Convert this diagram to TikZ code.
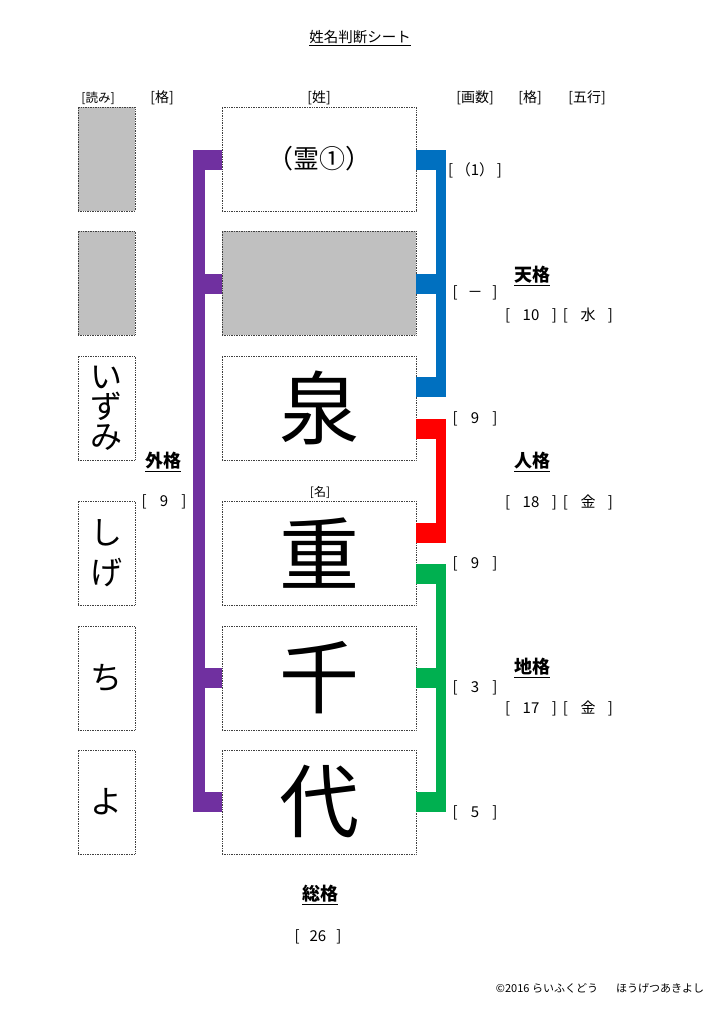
\documentclass[tikz,border=0pt]{standalone}
\usepackage{fontspec}
\setmainfont{Noto Sans CJK JP}
\usetikzlibrary{calc}
\definecolor{pur}{HTML}{7030A0}
\definecolor{blu}{HTML}{0070C0}
\definecolor{rd}{HTML}{FF0000}
\definecolor{grn}{HTML}{00B050}
\definecolor{boxgray}{HTML}{C0C0C0}
\newcommand\brk[2]{\makebox[#1pt]{[\hfill #2\hfill]}}
\newcommand\stubR[3]{\fill[#1] ($(#2)+(0,#3-10)$) rectangle ($(#2)+(30,#3+10)$);}
\newcommand\stubL[3]{\fill[#1] ($(#2)+(0,#3-10)$) rectangle ($(#2)+(-29,#3+10)$);}
\begin{document}
\begin{tikzpicture}[x=1pt,y=-1pt,
 namebox/.style={draw=black!75, densely dotted, line width=0.7pt, minimum width=194pt, minimum height=104pt, inner sep=0pt, font=\fontsize{80}{80}\selectfont},
 readbox/.style={draw=black!75, densely dotted, line width=0.7pt, minimum width=57pt, minimum height=104pt, inner sep=0pt, font=\fontsize{32}{36}\selectfont, align=center},
 grayfill/.style={fill=boxgray},
 head/.style={font=\fontsize{14}{14}\selectfont, inner sep=0pt},
 lbl/.style={font=\fontsize{15}{15}\selectfont, inner sep=0pt},
 kaku/.style={font=\fontsize{18}{18}\selectfont\bfseries, inner sep=0pt},
]
\path[use as bounding box, fill=white] (0,0) rectangle (724,1024);

% title
\node[font=\fontsize{14.5}{14.5}\selectfont, inner sep=0pt] (title) at (360,38) {\underline{姓名判断シート}};

% headers
\node[head, font=\fontsize{12.5}{12.5}\selectfont] (h1) at (98,98) {[読み]};
\node[head] (h2) at (162,98) {[格]};
\node[head] (h3) at (319,98) {[姓]};
\node[head] (h4) at (475,98) {[画数]};
\node[head] (h5) at (530,98) {[格]};
\node[head] (h6) at (587,98) {[五行]};

% name boxes
\node[namebox, font=\fontsize{26}{26}\selectfont] (n1) at (319,159) {（霊①）};
\node[namebox, grayfill] (n2) at (319,283) {};
\node[namebox] (n3) at (319,408) {泉};
\node[namebox] (n4) at (319,553) {重};
\node[namebox] (n5) at (319,678) {千};
\node[namebox] (n6) at (319,802) {代};
\node[font=\fontsize{12}{12}\selectfont, inner sep=0pt] (mei) at (320,492) {[名]};

% reading boxes
\node[readbox, grayfill] (y1) at (106.5,159) {};
\node[readbox, grayfill] (y2) at (106.5,283) {};
\node[readbox, font=\fontsize{32}{30}\selectfont] (y3) at (106.5,408) {い\\ず\\み};
\node[readbox, font=\fontsize{32}{40}\selectfont] (y4) at (106.5,553) {し\\げ};
\node[readbox] (y5) at (106.5,678) {ち};
\node[readbox] (y6) at (106.5,802) {よ};

% purple bracket (gaikaku)
\fill[pur] ($(n1.west)+(-29,-9)$) rectangle ($(n6.west)+(-17,10)$);
\stubL{pur}{n1.west}{1}
\stubL{pur}{n2.west}{1}
\stubL{pur}{n5.west}{0}
\stubL{pur}{n6.west}{0}

% blue bracket (tenkaku)
\fill[blu] ($(n1.east)+(20,-9)$) rectangle ($(n3.east)+(30,-11)$);
\stubR{blu}{n1.east}{1}
\stubR{blu}{n2.east}{1}
\stubR{blu}{n3.east}{-21}

% red bracket (jinkaku)
\fill[rd] ($(n3.east)+(20,11)$) rectangle ($(n4.east)+(30,-10)$);
\stubR{rd}{n3.east}{21}
\stubR{rd}{n4.east}{-20}

% green bracket (chikaku)
\fill[grn] ($(n4.east)+(20,11)$) rectangle ($(n6.east)+(30,10)$);
\stubR{grn}{n4.east}{21}
\stubR{grn}{n5.east}{0}
\stubR{grn}{n6.east}{0}

% stroke counts
\node[lbl] (s1) at (475,170) {\brk{54}{（1）}};
\node[lbl] (s2) at (475,293) {\brk{45}{－}};
\node[lbl] (s3) at (475,419) {\brk{45}{9}};
\node[lbl] (s4) at (475,564) {\brk{45}{9}};
\node[lbl] (s5) at (475,688) {\brk{45}{3}};
\node[lbl] (s6) at (475,813) {\brk{45}{5}};

% kaku labels
\node[kaku] (ten) at (532,276) {\underline{天格}};
\node[lbl] (tenv) at (559,315) {\brk{52}{10}\hspace{6pt}\brk{50}{水}};
\node[kaku] (jin) at (532,462) {\underline{人格}};
\node[lbl] (jinv) at (559,502) {\brk{52}{18}\hspace{6pt}\brk{50}{金}};
\node[kaku] (chi) at (532,668) {\underline{地格}};
\node[lbl] (chiv) at (559,708) {\brk{52}{17}\hspace{6pt}\brk{50}{金}};
\node[kaku] (gai) at (163,462) {\underline{外格}};
\node[lbl] (gaiv) at (164,502) {\brk{45}{9}};
\node[kaku] (sou) at (320,895) {\underline{総格}};
\node[lbl] (souv) at (318,937) {\brk{47}{26}};

% copyright
\node[font=\fontsize{11}{11}\selectfont, inner sep=0pt] (copy) at (600,988) {©2016 らいふくどう\hspace{18pt}ほうげつあきよし};
\end{tikzpicture}
\end{document}
